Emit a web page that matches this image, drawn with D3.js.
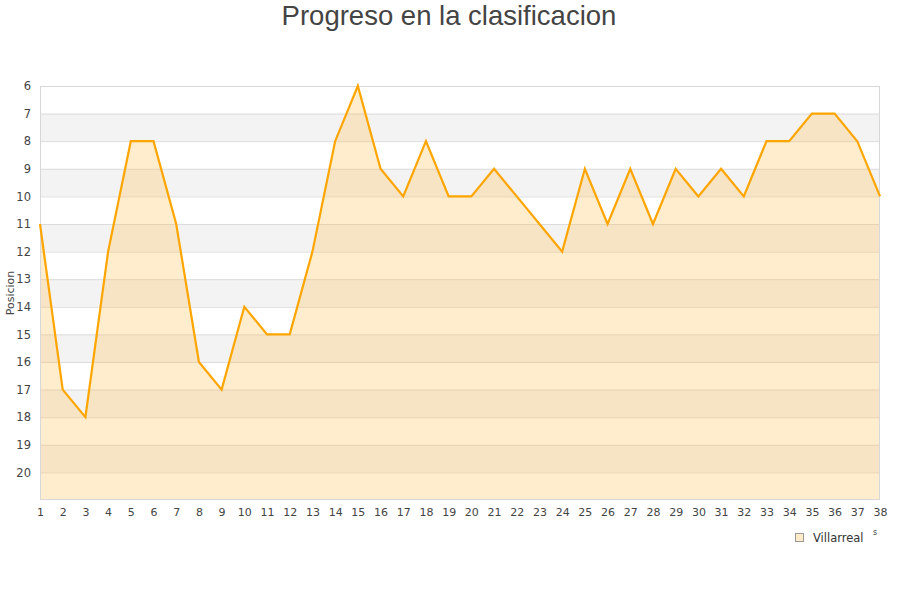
<!DOCTYPE html>
<html><head><meta charset="utf-8">
<script src="https://cdn.jsdelivr.net/npm/d3@7"></script>
<style>body{margin:0;background:#fff;}svg{display:block;}</style>
</head><body>
<svg id="c" width="900" height="600"></svg>
<script>
const jornadas = d3.range(1, 39);
const posiciones = [11,17,18,12,8,8,11,16,17,14,15,15,12,8,6,9,10,8,10,10,9,10,11,12,9,11,9,11,9,10,9,10,8,8,7,7,8,10];
const yTicks = d3.range(6, 21);
const title = "Progreso en la clasificacion";
const yTitle = "Posicion";
const seriesName = "Villarreal";

const svg = d3.select("#c");
const L = 40, R = 880, T = 86, B = 500;
const x = d3.scaleLinear().domain([1, 38]).range([L, R]);
const y = d3.scaleLinear().domain([6, 21]).range([T, B]);

// bands
const bands = d3.range(6, 21);
svg.append("g").selectAll("rect").data(bands).join("rect")
  .attr("x", L).attr("width", R - L)
  .attr("y", d => y(d)).attr("height", d => y(d + 1) - y(d))
  .attr("fill", d => (d % 2 === 1) ? "#f3f3f3" : "#ffffff");

// gridlines
svg.append("g").selectAll("line").data(d3.range(7, 21)).join("line")
  .attr("x1", L).attr("x2", R)
  .attr("y1", d => y(d) + 0.5).attr("y2", d => y(d) + 0.5)
  .attr("stroke", "#dcdcdc").attr("stroke-width", 1);

// area
const area = d3.area().x((d, i) => x(jornadas[i])).y0(B).y1(d => y(d));
svg.append("path").datum(posiciones).attr("d", area)
  .attr("fill", "rgba(255,190,70,0.27)");

// border
svg.append("rect").attr("x", L + 0.5).attr("y", T + 0.5).attr("width", R - L - 1).attr("height", B - T - 1)
  .attr("fill", "none").attr("stroke", "#d8d8d8");

// line
const line = d3.line().x((d, i) => x(jornadas[i])).y(d => y(d));
svg.append("path").datum(posiciones).attr("d", line)
  .attr("fill", "none").attr("stroke", "#ffa500").attr("stroke-width", 2.2).attr("stroke-linejoin", "miter");

// axes labels
const yAxis = d3.axisLeft(y).tickValues(yTicks).tickSize(0).tickPadding(9).tickFormat(d3.format("d"));
const gy = svg.append("g").attr("transform", `translate(${L},0)`).call(yAxis);
gy.select(".domain").remove();
gy.selectAll("text").attr("font-family", "DejaVu Sans, Verdana, sans-serif").attr("font-size", 11.5).attr("fill", "#444");

const xAxis = d3.axisBottom(x).tickValues(jornadas).tickSize(0).tickPadding(8).tickFormat(d3.format("d"));
const gx = svg.append("g").attr("transform", `translate(0,${B + 0})`).call(xAxis);
gx.select(".domain").remove();
gx.selectAll("text").attr("font-family", "DejaVu Sans, Verdana, sans-serif").attr("font-size", 11).attr("fill", "#444");

// title
svg.append("text").attr("x", 449).attr("y", 25).attr("text-anchor", "middle")
  .attr("font-family", "Liberation Sans, Arial, sans-serif").attr("font-size", 27.5).attr("fill", "#444").text(title);

// y title
svg.append("text").attr("transform", "translate(14,293) rotate(-90)").attr("text-anchor", "middle")
  .attr("font-family", "DejaVu Sans, Verdana, sans-serif").attr("font-size", 11).attr("fill", "#444").text(yTitle);

// legend
svg.append("rect").attr("x", 795.5).attr("y", 533.5).attr("width", 8).attr("height", 8)
  .attr("fill", "#ffebc7").attr("stroke", "#999").attr("stroke-width", 1);
svg.append("text").attr("x", 813).attr("y", 542)
  .attr("font-family", "DejaVu Sans, Verdana, sans-serif").attr("font-size", 11.5).attr("fill", "#333").text(seriesName);
svg.append("text").attr("x", 873).attr("y", 535)
  .attr("font-family", "DejaVu Sans, Verdana, sans-serif").attr("font-size", 8).attr("fill", "#444").text("s");
</script>
</body></html>
